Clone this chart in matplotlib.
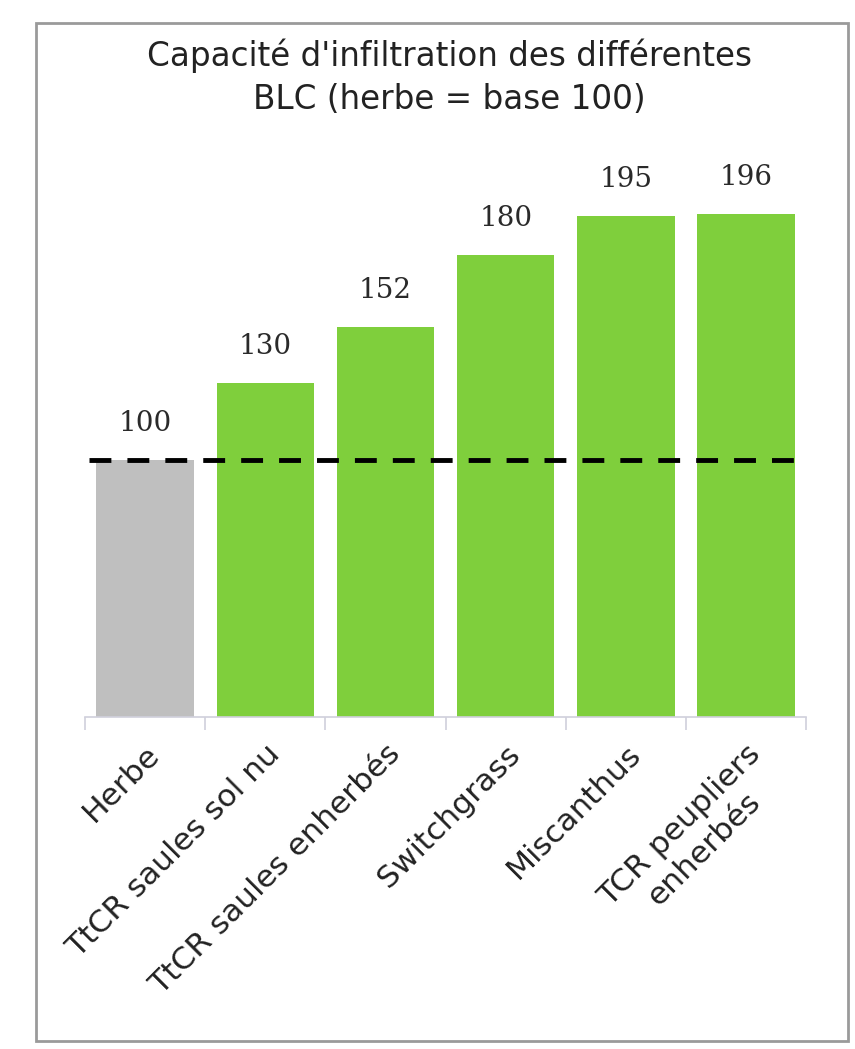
import numpy as np
import matplotlib.pyplot as plt
from matplotlib.patches import Rectangle

categories = ["Herbe", "TtCR saules sol nu", "TtCR saules enherbés",
              "Switchgrass", "Miscanthus", "TCR peupliers\nenherbés"]
values = [100, 130, 152, 180, 195, 196]
base = 100
bar_colors = ["#bfbfbf", "#7fcf3c", "#7fcf3c", "#7fcf3c", "#7fcf3c", "#7fcf3c"]

fig = plt.figure(figsize=(8.55, 10.49), dpi=100)

# outer frame of the chart
fig.patches.append(Rectangle((0.042, 0.008), 0.950, 0.970, transform=fig.transFigure,
                             fill=False, edgecolor="#9a9a9a", linewidth=2.0))

ax = fig.add_axes([0.0994, 0.3165, 0.8436, 0.5385])
x = np.arange(len(categories))
ax.bar(x, values, width=0.81, color=bar_colors)
ax.set_xlim(-0.5, len(categories) - 0.5)
ax.set_ylim(0, 220)

ax.axhline(base, color="black", linestyle=(0, (4.5, 3.3)), linewidth=3.5,
           xmin=0.005, xmax=0.995)

for xi, v in zip(x, values):
    ax.text(xi, v + 9, str(v), ha="center", va="bottom", fontsize=20,
            family="DejaVu Serif", color="#2a2a2a")

for s in ["top", "right", "left"]:
    ax.spines[s].set_visible(False)
ax.spines["bottom"].set_color("#d0d0dc")
ax.spines["bottom"].set_linewidth(1.2)
ax.set_yticks([])

# boundary ticks between categories
ax.set_xticks(np.arange(-0.5, len(categories), 1.0))
ax.set_xticklabels([])
ax.tick_params(axis="x", which="major", length=9, color="#d0d0dc", width=1.2)
ax.set_xticks(x, minor=True)
ax.set_xticklabels(categories, minor=True, rotation=45, ha="right",
                   rotation_mode="anchor", fontsize=22.5, family="DejaVu Sans",
                   color="#222222", multialignment="center")
ax.tick_params(axis="x", which="minor", length=0, pad=16)

fig.text(0.526, 0.9266, "Capacité d'infiltration des différentes\nBLC (herbe = base 100)",
         ha="center", va="center", fontsize=23.5, family="DejaVu Sans",
         color="#222222", linespacing=1.4)

fig.savefig("out.png", dpi=100, facecolor="white")
